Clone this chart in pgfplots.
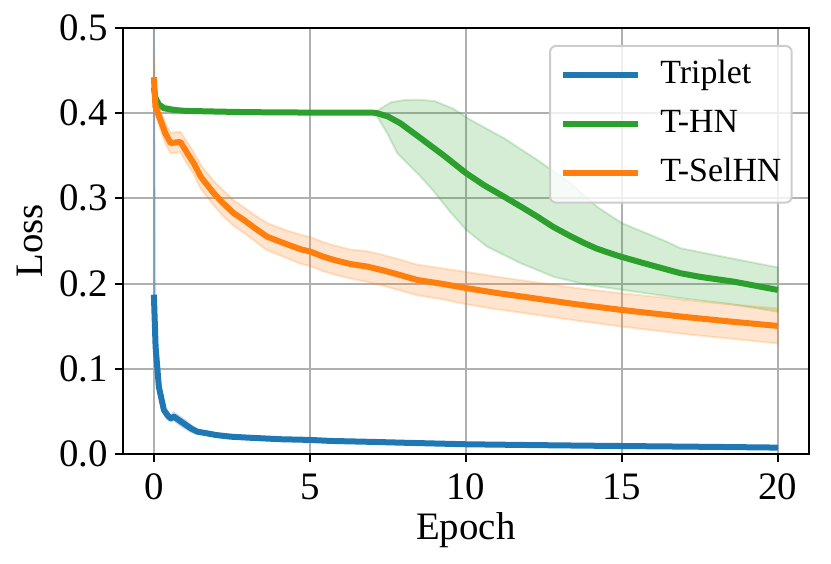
\documentclass[border=0pt]{standalone}
\usepackage{fontspec}
\setmainfont{Liberation Serif}
\usepackage{pgfplots}
\pgfplotsset{compat=1.18}
\definecolor{tabblue}{HTML}{1F77B4}
\definecolor{tabgreen}{HTML}{2CA02C}
\definecolor{taborange}{HTML}{FF7F0E}
\definecolor{gridgray}{HTML}{B0B0B0}
\begin{document}
\begin{tikzpicture}
\begin{axis}[
  name=ax,
  scale only axis,
  width=343.2bp, height=213.3bp,
  xmin=-1, xmax=21, ymin=0, ymax=0.5,
  xtick={0,5,10,15,20},
  ytick={0,0.1,0.2,0.3,0.4,0.5},
  /pgf/number format/assume math mode=true,
  yticklabel style={/pgf/number format/fixed, /pgf/number format/fixed zerofill, /pgf/number format/precision=1},
  ticklabel style={font=\fontsize{19.5}{23}\selectfont},
  yticklabel style={anchor=east, inner sep=0pt, xshift=-3.5bp},
  xticklabel style={anchor=north, inner sep=0pt, yshift=-5.65bp},
  tick pos=left,
  tick align=outside,
  major tick length=3.85bp,
  tick style={black, line width=1bp},
  axis line style={black, line width=1.1bp},
  grid=major,
  major grid style={gridgray, line width=1bp},
  xlabel={Epoch},
  ylabel={Loss},
  label style={font=\fontsize{19.5}{23}\selectfont},
  xlabel style={at={(axis description cs:0.5,-0.20089)}, anchor=base},
  ylabel style={at={(axis description cs:-0.11611,0.5)}, anchor=base},
  legend style={at={(axis description cs:1,1)}, anchor=north east,
    xshift=-8.15bp, yshift=-8.65bp,
    draw=black!20, line width=1bp, rounded corners=3bp,
    fill=white, fill opacity=0.8, text opacity=1,
    inner xsep=5.15bp, inner ysep=7bp,
    row sep=9.2bp, column sep=9.5bp,
    font=\fontsize{17}{20}\selectfont,
    nodes={inner sep=0pt, text height=11.6bp, text depth=3.7bp},
    cells={anchor=west}},
  legend image code/.code={%
    \path[draw=none, fill=none] (0bp,-5.6bp) rectangle (37.5bp,1.5bp);
    \draw[#1, sharp corners, line cap=butt] (0bp,0bp) -- (37.5bp,0bp);},
]
% Triplet
\addplot[tabblue, line width=3bp, line join=round] coordinates {
(0,0.187) (0.055,0.126) (0.16,0.079) (0.32,0.052) (0.45,0.045) (0.54,0.042)
(0.64,0.044) (0.8,0.040) (1.0,0.035) (1.2,0.030) (1.39,0.0265) (1.7,0.0245)
(2.0,0.0225) (2.46,0.0206) (3.0,0.0195) (4.06,0.0176) (5,0.0168) (5.66,0.0156)
(7,0.0145) (8,0.0135) (10,0.0117) (12,0.0108) (14,0.0100) (16,0.0093)
(18,0.0086) (20,0.0078)};
\addlegendentry{Triplet}
\addplot[forget plot, fill=tabblue, fill opacity=0.2, draw=tabblue, draw opacity=0.2, line width=1bp] coordinates {
(0,0.50) (0.055,0.13) (0.16,0.081) (0.32,0.054) (0.54,0.045) (0.64,0.049)
(0.8,0.045) (1.0,0.040) (1.2,0.034) (1.39,0.029) (1.7,0.026) (2.0,0.024)
(3,0.0205) (5,0.0178) (10,0.0125) (20,0.0086)
(20,0.0070) (10,0.0109) (5,0.0158) (3,0.0185) (2.0,0.021) (1.7,0.023)
(1.39,0.024) (1.2,0.026) (1.0,0.030) (0.8,0.035) (0.64,0.040) (0.54,0.039)
(0.32,0.050) (0.16,0.077) (0.055,0.122) (0,0.187)} -- cycle;
% T-HN
\addplot[tabgreen, line width=3bp, line join=round] coordinates {
(0,0.43) (0.05,0.418) (0.16,0.41) (0.32,0.4056) (0.64,0.4036) (1,0.4025)
(2.14,0.4016) (3,0.401) (5,0.4005) (7.1,0.4003) (7.5,0.396) (7.9,0.388)
(8.55,0.3705) (9.3,0.35) (10.01,0.3294) (10.6,0.315) (11.22,0.302)
(11.8,0.2895) (12.29,0.2786) (12.8,0.2665) (13.36,0.2555) (13.8,0.2475)
(14.2,0.241) (14.6,0.236) (14.96,0.2317) (15.7,0.224)
(16.88,0.2122) (17.5,0.208) (18.59,0.2023) (20,0.1926)};
\addlegendentry{T-HN}
\addplot[forget plot, fill=tabgreen, fill opacity=0.2, draw=tabgreen, draw opacity=0.2, line width=1bp] coordinates {
(0,0.432) (0.16,0.411) (1,0.4035) (5,0.4015) (7.1,0.401) (7.3,0.406)
(7.6,0.4125) (8.0,0.415) (8.5,0.4155) (9.0,0.414) (9.6,0.405) (10.15,0.392)
(11.22,0.3705) (12.29,0.345) (13.36,0.3177) (14.21,0.29) (15.0,0.271)
(16.45,0.249) (16.88,0.2415) (18.6,0.229) (20,0.219)
(20,0.167) (18.5,0.176) (16.88,0.183) (15.03,0.1926) (13.89,0.1985)
(12.82,0.208) (11.75,0.224) (10.68,0.2434) (10.01,0.263)
(9.5,0.284) (9.0,0.307) (8.55,0.3255) (7.8,0.353) (7.5,0.375) (7.1,0.3995)
(5,0.3995) (1,0.4015) (0.16,0.409) (0,0.428)} -- cycle;
% T-SelHN
\addplot[taborange, line width=3bp, line join=round] coordinates {
(0,0.442) (0.05,0.4075) (0.21,0.392) (0.37,0.376) (0.54,0.3646) (0.7,0.3655)
(0.85,0.366) (1.07,0.353) (1.28,0.341) (1.5,0.3254) (1.7,0.316) (1.92,0.306)
(2.2,0.295) (2.56,0.2825) (2.88,0.2747) (3.2,0.266) (3.63,0.255) (4.17,0.2474)
(4.7,0.2403) (5.02,0.2375) (5.4,0.232) (5.77,0.2278) (6.3,0.223) (6.84,0.22)
(7.4,0.215) (7.9,0.21) (8.44,0.2043) (9.2,0.2) (10.04,0.1946) (11,0.189)
(12.18,0.1829) (13.5,0.176) (15.03,0.169) (17,0.161) (18.5,0.1555) (20,0.1504)};
\addlegendentry{T-SelHN}
\addplot[forget plot, fill=taborange, fill opacity=0.2, draw=taborange, draw opacity=0.2, line width=1bp] coordinates {
(0,0.47) (0.05,0.4175) (0.21,0.404) (0.37,0.388) (0.54,0.3766) (0.7,0.3775)
(0.85,0.378) (1.07,0.366) (1.28,0.354) (1.5,0.3394) (1.7,0.330) (1.92,0.320)
(2.2,0.310) (2.56,0.2975) (2.88,0.2897) (3.2,0.281) (3.63,0.271) (4.17,0.2634)
(4.7,0.2573) (5.02,0.2545) (5.4,0.249) (5.77,0.2448) (6.3,0.240) (6.84,0.238)
(7.4,0.233) (7.9,0.228) (8.44,0.2223) (9.2,0.218) (10.04,0.2136) (11,0.208)
(12.18,0.2019) (13.5,0.195) (15.03,0.1885) (17,0.181) (18.5,0.1755) (20,0.1709)
(20,0.1299) (18.5,0.1355) (17,0.141) (15.03,0.1495) (13.5,0.157) (12.18,0.1639)
(11,0.170) (10.04,0.1756) (9.2,0.182) (8.44,0.1863) (7.9,0.192) (7.4,0.197)
(6.84,0.202) (6.3,0.206) (5.77,0.2108) (5.4,0.215) (5.02,0.2205) (4.7,0.2233)
(4.17,0.2314) (3.63,0.239) (3.2,0.251) (2.88,0.2597) (2.56,0.2675) (2.2,0.280)
(1.92,0.292) (1.7,0.302) (1.5,0.3114) (1.28,0.328) (1.07,0.340) (0.85,0.354)
(0.7,0.3535) (0.54,0.3526) (0.37,0.364) (0.21,0.380) (0.05,0.3975) (0,0.43)} -- cycle;
\end{axis}
\pgfresetboundingbox
\path[use as bounding box] ([xshift=-61.35bp, yshift=-54.85bp]ax.south west) rectangle ([xshift=11bp, yshift=13.85bp]ax.north east);
\end{tikzpicture}
\end{document}
